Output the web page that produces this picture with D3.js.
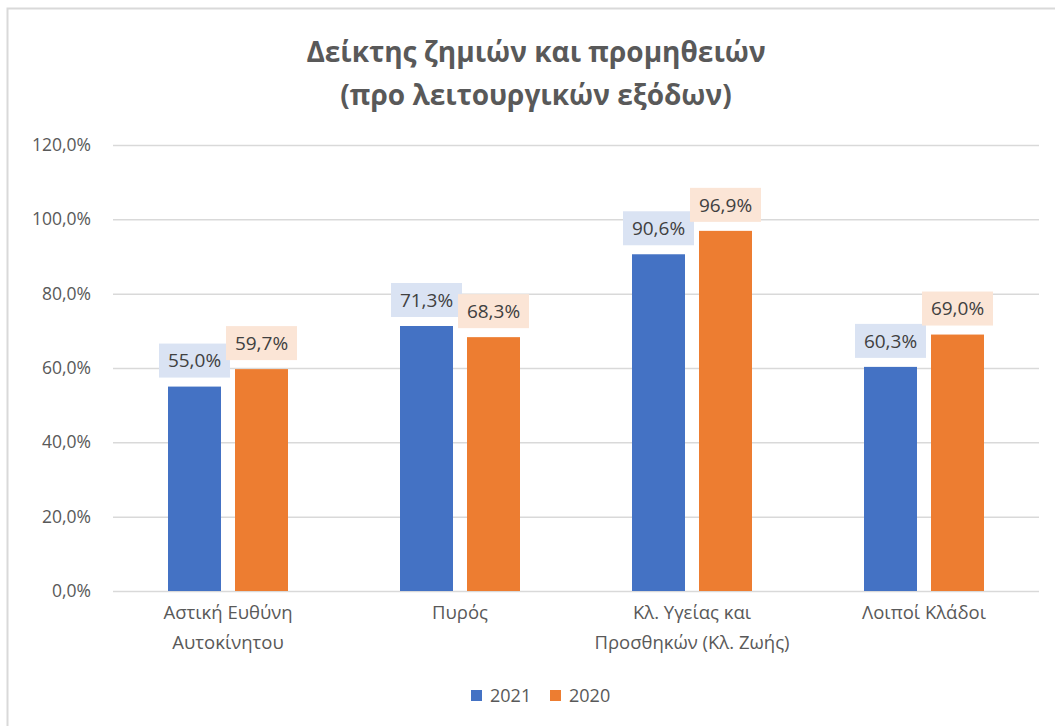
<!DOCTYPE html>
<html>
<head>
<meta charset="utf-8">
<script src="https://cdn.jsdelivr.net/npm/d3@7"></script>
<style>
  body { margin: 0; background: #fff; }
  svg text { font-family: "Open Sans", "Noto Sans", sans-serif; }
</style>
</head>
<body>
<svg id="chart" width="1055" height="726"></svg>
<script>
var categories = [
  ["Αστική Ευθύνη", "Αυτοκίνητου"],
  ["Πυρός"],
  ["Κλ. Υγείας και", "Προσθηκών (Κλ. Ζωής)"],
  ["Λοιποί Κλάδοι"]
];
var seriesNames = ["2021", "2020"];
var values2021 = [0.550, 0.713, 0.906, 0.603];
var values2020 = [0.597, 0.683, 0.969, 0.690];
var yTicks = [0, 0.2, 0.4, 0.6, 0.8, 1.0, 1.2];
var titleLines = ["Δείκτης ζημιών και προμηθειών", "(προ λειτουργικών εξόδων)"];

var colors = ["#4472c4", "#ed7d31"];
var labelBg = ["#dae3f3", "#fbe5d6"];

var svg = d3.select("#chart");

// chart border
svg.append("rect")
  .attr("x", 7.5).attr("y", 8.5)
  .attr("width", 1060).attr("height", 730)
  .attr("fill", "none")
  .attr("stroke", "#d9d9d9")
  .attr("stroke-width", 2);

var fmt = function (v) {
  return (v * 100).toFixed(1).replace(".", ",") + "%";
};

var x0 = d3.scaleBand()
  .domain(d3.range(categories.length))
  .range([112, 1040]);

var x1 = d3.scaleBand()
  .domain(seriesNames)
  .range([56, 176])
  .paddingInner(0.209);

var y = d3.scaleLinear().domain([0, 1.2]).range([591, 145]);

// title
svg.append("g").selectAll("text")
  .data(titleLines)
  .enter()
  .append("text")
  .attr("x", 536)
  .attr("y", function (d, i) { return 62 + i * 43; })
  .attr("text-anchor", "middle")
  .attr("font-size", "28px")
  .attr("font-weight", "bold")
  .attr("fill", "#595959")
  .text(function (d) { return d; });

// gridlines + y axis
var yAxis = d3.axisLeft(y)
  .tickValues(yTicks)
  .tickSize(-(1039 - 113))
  .tickFormat(fmt);

var gy = svg.append("g")
  .attr("transform", "translate(113,0)")
  .call(yAxis);
gy.select(".domain").remove();
gy.selectAll(".tick line")
  .attr("stroke", "#d9d9d9")
  .attr("stroke-width", 1.5);
gy.selectAll(".tick text")
  .attr("x", -22)
  .attr("font-size", "17.5px")
  .attr("fill", "#595959");

// bars
var data = categories.map(function (c, i) {
  return [
    { key: "2021", cat: i, value: values2021[i], s: 0 },
    { key: "2020", cat: i, value: values2020[i], s: 1 }
  ];
});

var groups = svg.append("g").selectAll("g")
  .data(data)
  .enter()
  .append("g")
  .attr("transform", function (d, i) { return "translate(" + x0(i) + ",0)"; });

groups.selectAll("rect")
  .data(function (d) { return d; })
  .enter()
  .append("rect")
  .attr("x", function (d) { return x1(d.key); })
  .attr("y", function (d) { return y(d.value); })
  .attr("width", x1.bandwidth())
  .attr("height", function (d) { return y(0) - y(d.value); })
  .attr("fill", function (d) { return colors[d.s]; });

// data labels with box
var boxW = 71, boxH = 34;
var labels = groups.selectAll("g.lbl")
  .data(function (d) { return d; })
  .enter()
  .append("g")
  .attr("class", "lbl")
  .attr("transform", function (d) {
    var cx = x1(d.key) + x1.bandwidth() / 2;
    return "translate(" + cx + "," + (y(d.value) - 9 - boxH / 2) + ")";
  });
labels.append("rect")
  .attr("x", -boxW / 2)
  .attr("y", -boxH / 2)
  .attr("width", boxW)
  .attr("height", boxH)
  .attr("fill", function (d) { return labelBg[d.s]; });
labels.append("text")
  .attr("text-anchor", "middle")
  .attr("dy", "0.36em")
  .attr("font-size", "19px")
  .attr("fill", "#404040")
  .text(function (d) { return fmt(d.value); });

// category labels
var catG = svg.append("g").selectAll("text")
  .data(categories)
  .enter()
  .append("text")
  .attr("text-anchor", "middle")
  .attr("font-size", "18.5px")
  .attr("fill", "#595959");
catG.selectAll("tspan")
  .data(function (d, i) { return d.map(function (t) { return { t: t, i: i }; }); })
  .enter()
  .append("tspan")
  .attr("x", function (d) { return x0(d.i) + x0.bandwidth() / 2; })
  .attr("y", function (d, j) { return 619 + j * 30; })
  .text(function (d) { return d.t; });

// legend
var legend = svg.append("g").selectAll("g")
  .data(seriesNames)
  .enter()
  .append("g")
  .attr("transform", function (d, i) { return "translate(" + (471 + i * 79) + ",690)"; });
legend.append("rect")
  .attr("width", 11).attr("height", 11)
  .attr("fill", function (d, i) { return colors[i]; });
legend.append("text")
  .attr("x", 19).attr("y", 12)
  .attr("font-size", "18px")
  .attr("fill", "#595959")
  .text(function (d) { return d; });
</script>
</body>
</html>
